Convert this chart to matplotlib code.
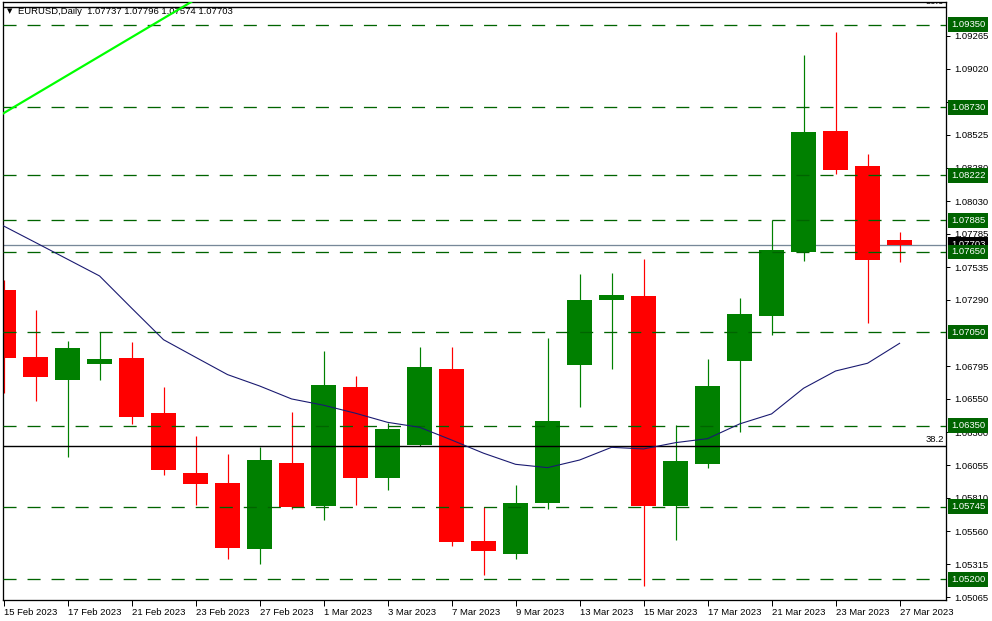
import matplotlib
matplotlib.use("Agg")
import matplotlib.pyplot as plt
from matplotlib.patches import Rectangle
import matplotlib.transforms as mtrans

plt.rcParams['lines.scale_dashes'] = False
plt.rcParams['font.family'] = ['Liberation Sans', 'DejaVu Sans']

# ---------------- data ----------------
dates = ['15 Feb 2023', '16 Feb 2023', '17 Feb 2023', '20 Feb 2023', '21 Feb 2023',
         '22 Feb 2023', '23 Feb 2023', '24 Feb 2023', '27 Feb 2023', '28 Feb 2023',
         '1 Mar 2023', '2 Mar 2023', '3 Mar 2023', '6 Mar 2023', '7 Mar 2023',
         '8 Mar 2023', '9 Mar 2023', '10 Mar 2023', '13 Mar 2023', '14 Mar 2023',
         '15 Mar 2023', '16 Mar 2023', '17 Mar 2023', '20 Mar 2023', '21 Mar 2023',
         '22 Mar 2023', '23 Mar 2023', '24 Mar 2023', '27 Mar 2023']

opens = [1.07365, 1.06864, 1.06694, 1.06812, 1.06856, 1.06445, 1.05996, 1.05921, 1.05430, 1.06071,
         1.05752, 1.06640, 1.05961, 1.06206, 1.06774, 1.05488, 1.05393, 1.05774, 1.06806, 1.07290,
         1.07320, 1.05749, 1.06064, 1.06834, 1.07171, 1.07649, 1.08554, 1.08293, 1.07737]
highs = [1.07440, 1.07215, 1.06984, 1.07049, 1.06976, 1.06640, 1.06273, 1.06138, 1.06193, 1.06453,
         1.06909, 1.06722, 1.06372, 1.06939, 1.06939, 1.05740, 1.05906, 1.07006, 1.07485, 1.07492,
         1.07597, 1.06355, 1.06849, 1.07305, 1.07885, 1.09123, 1.09295, 1.08382, 1.07796]
lows = [1.06597, 1.06537, 1.06118, 1.06694, 1.06363, 1.05984, 1.05757, 1.05355, 1.05318, 1.05729,
        1.05645, 1.05759, 1.05871, 1.06196, 1.05452, 1.05236, 1.05355, 1.05729, 1.06492, 1.06776,
        1.05153, 1.05497, 1.06034, 1.06303, 1.07028, 1.07584, 1.08235, 1.07120, 1.07574]
closes = [1.06859, 1.06714, 1.06931, 1.06849, 1.06417, 1.06019, 1.05916, 1.05437, 1.06093, 1.05740,
          1.06654, 1.05961, 1.06325, 1.06789, 1.05482, 1.05415, 1.05772, 1.06385, 1.07290, 1.07328,
          1.05749, 1.06086, 1.06647, 1.07186, 1.07664, 1.08547, 1.08263, 1.07592, 1.07703]

ma_values = [1.07844, 1.07720, 1.07595, 1.07470, 1.07230, 1.06993, 1.06862, 1.06732, 1.06647, 1.06550,
             1.06503, 1.06443, 1.06375, 1.06338, 1.06243, 1.06144, 1.06061, 1.06036, 1.06093, 1.06188,
             1.06176, 1.06223, 1.06253, 1.06363, 1.06438, 1.06630, 1.06759, 1.06817, 1.06966]

level_values = [1.09350, 1.08730, 1.08222, 1.07885, 1.07650, 1.07050, 1.06350, 1.05745, 1.05200]
level_labels = ['1.09350', '1.08730', '1.08222', '1.07885', '1.07650', '1.07050', '1.06350', '1.05745', '1.05200']

current_price = 1.07703
current_label = '1.07703'

fib_values = [1.09480, 1.06198]
fib_labels = ['50.0', '38.2']

trend_start = (0.0, 1.08687)
trend_end = (5.8, 1.09510)

ytick_values = [1.09265, 1.09020, 1.08770, 1.08525, 1.08280, 1.08030, 1.07785, 1.07535, 1.07290,
                1.06795, 1.06550, 1.06300, 1.06055, 1.05810, 1.05560, 1.05315, 1.05065]
ytick_labels = ['1.09265', '1.09020', '1.08770', '1.08525', '1.08280', '1.08030', '1.07785', '1.07535',
                '1.07290', '1.06795', '1.06550', '1.06300', '1.06055', '1.05810', '1.05560',
                '1.05315', '1.05065']

header = 'EURUSD,Daily  1.07737 1.07796 1.07574 1.07703'

# ---------------- style ----------------
W, H = 992, 621
PX = 0.72  # one pixel in points at 100 dpi
BULL = '#008000'
BEAR = '#ff0000'
LEVEL = '#006400'
FS = 6.8

fig = plt.figure(figsize=(W / 100, H / 100), dpi=100)
fig.patch.set_facecolor('white')
ax = fig.add_axes([3 / W, 21 / H, 943 / W, 598 / H])
ax.set_facecolor('white')

n = len(dates)
xs = list(range(n))
body_w = 25 / 32

for i in xs:
    o, h, l, c = opens[i], highs[i], lows[i], closes[i]
    col = BULL if c >= o else BEAR
    ax.vlines(i, l, h, color=col, lw=PX * 1.2, zorder=2)
    bot = min(o, c)
    ht = max(abs(c - o), 0.00003)
    ax.add_patch(Rectangle((i - body_w / 2, bot), body_w, ht, facecolor=col,
                           edgecolor='none', lw=0, zorder=2))

# current price line (behind candles)
ax.axhline(current_price, color='#778899', lw=PX * 1.3, zorder=1)

# horizontal levels
for v in level_values:
    ax.axhline(v, color=LEVEL, lw=PX * 1.3, dashes=(9.4, 7.9), zorder=3)

# fibonacci lines
for v, lab in zip(fib_values, fib_labels):
    ax.axhline(v, color='black', lw=PX * 1.4, zorder=3)
    ax.text(0.9979, v + 0.00012, lab, transform=mtrans.blended_transform_factory(ax.transAxes, ax.transData),
            ha='right', va='bottom', fontsize=FS, color='black', clip_on=True, zorder=3)

# moving average
ax.plot(xs, ma_values, color='#191970', lw=PX * 1.1, zorder=4)

# trend line
ax.axline(trend_start, trend_end, color='#00ff00', lw=PX * 2.2, zorder=5)

ax.set_xlim(-0.016, 29.45)
ax.set_ylim(1.05046, 1.09519)

# axes frame
for s in ax.spines.values():
    s.set_color('black')
    s.set_linewidth(PX * 1.3)

# y axis on right
ax.yaxis.tick_right()
ax.set_yticks(ytick_values)
ax.set_yticklabels(ytick_labels)
ax.tick_params(axis='y', right=True, left=False, labelright=True, labelleft=False,
               length=3, width=PX, pad=3, labelsize=FS, colors='black')

# x axis
ax.set_xticks(xs[::2])
ax.set_xticklabels(dates[::2])
ax.tick_params(axis='x', bottom=True, length=4, width=PX, pad=2, labelsize=FS, colors='black')
for t in ax.get_xticklabels():
    t.set_horizontalalignment('left')

# right-side labels
trans_r = mtrans.blended_transform_factory(fig.transFigure, ax.transData)
ax.text(951 / W, current_price, current_label, transform=trans_r, ha='left', va='center',
        fontsize=FS, color='white', clip_on=False, zorder=10,
        bbox=dict(boxstyle='square,pad=0.3', facecolor='black', edgecolor='none'))
for v, lab in zip(level_values, level_labels):
    ax.text(951 / W, v, lab, transform=trans_r, ha='left', va='center',
            fontsize=FS, color='white', clip_on=False, zorder=11,
            bbox=dict(boxstyle='square,pad=0.3', facecolor=LEVEL, edgecolor='none'))

# header
ax.text(7 / W, 1 - 11 / H, '\u25bc', transform=fig.transFigure, ha='left', va='center',
        fontsize=5, color='black', family='DejaVu Sans', zorder=1, clip_on=False)
ax.text(18 / W, 1 - 11 / H, header, transform=fig.transFigure, ha='left', va='center',
        fontsize=FS, color='black', zorder=1, clip_on=False)

fig.savefig('out.png', dpi=100, facecolor='white')
